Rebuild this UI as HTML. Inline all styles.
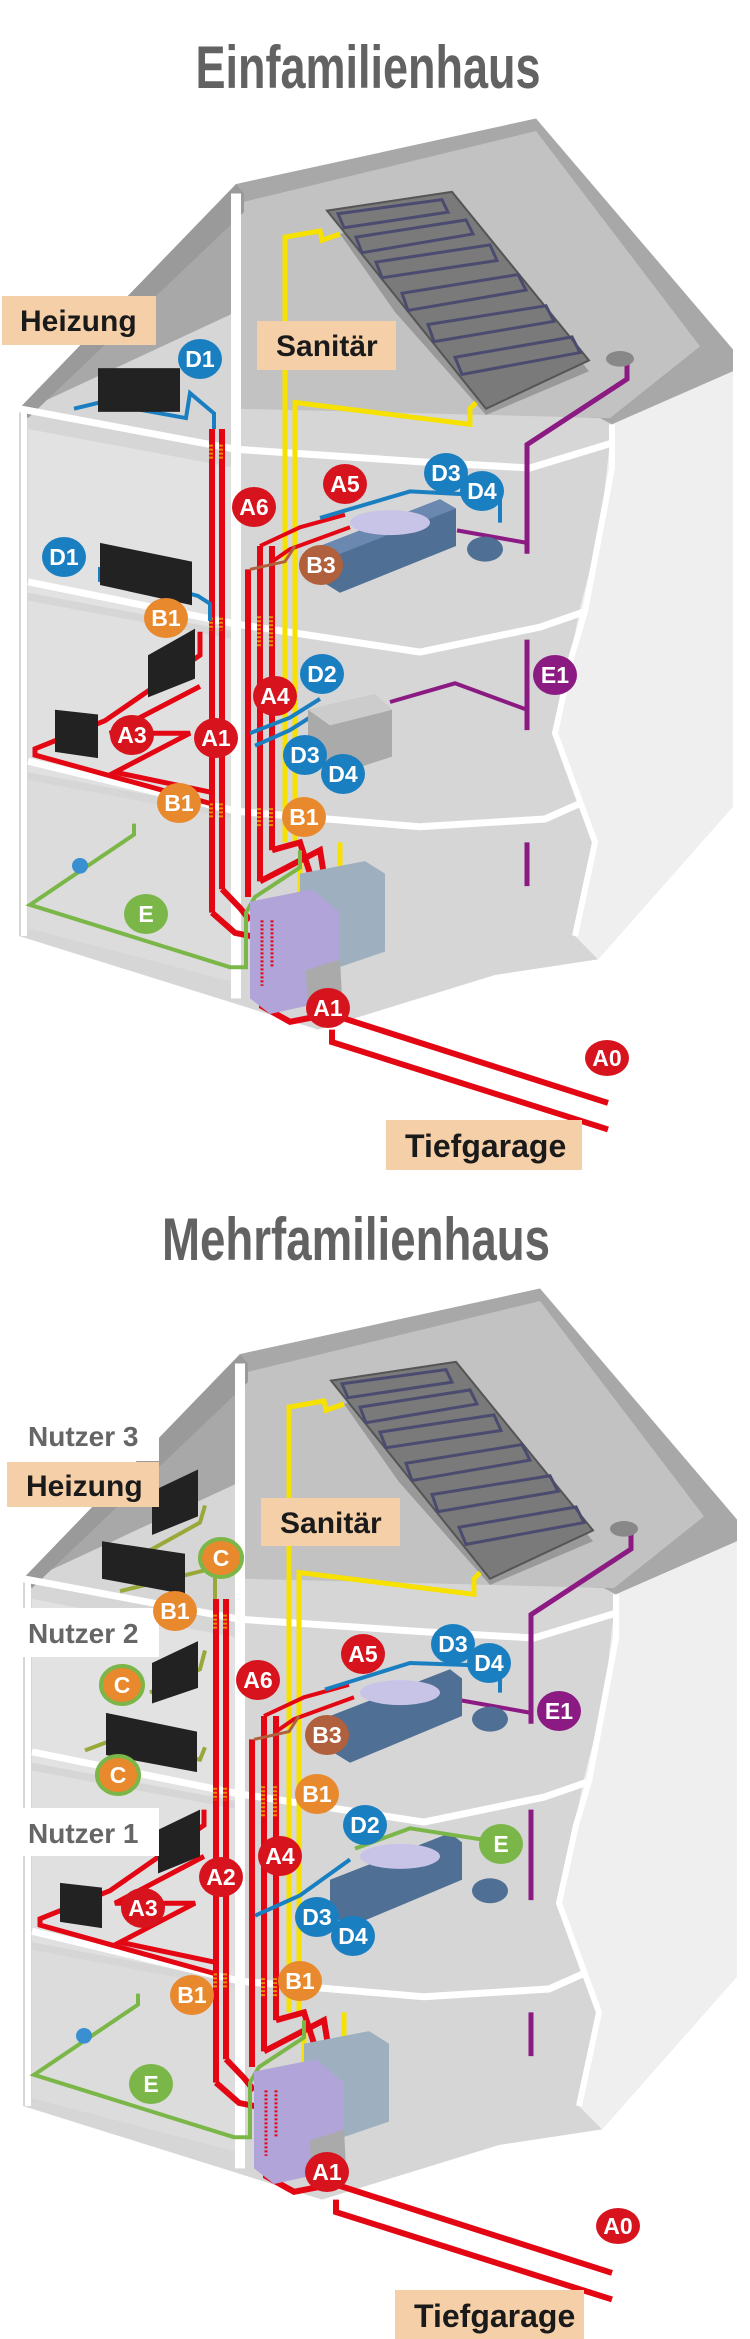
<!DOCTYPE html>
<html><head><meta charset="utf-8"><style>
html,body{margin:0;padding:0;background:#fff;}
svg{display:block;}
text{font-family:"Liberation Sans Narrow","Liberation Sans",sans-serif;font-weight:bold;}
.lb{fill:#fff;font-size:23px;text-anchor:middle;}
.ns *{vector-effect:non-scaling-stroke;}
</style></head><body>
<svg width="750" height="2339" viewBox="0 0 750 2339" xmlns="http://www.w3.org/2000/svg">
<defs>
<g id="house" class="ns">
  <polygon points="19,262 236,118 536,76 733,224 733,517 598,615 495,625 318,660 19,600" fill="#d6d6d6"/>
  <polygon points="28,380 236,405 236,300 28,275" fill="#e2e2e2"/>
  <polygon points="28,495 236,520 236,410 28,385" fill="#e0e0e0"/>
  <polygon points="28,595 236,630 236,525 28,500" fill="#dcdcdc"/>
  <polygon points="19,262 236,118 536,76 733,224 733,238 612,272 600,268 236,258 236,200 28,262" fill="#a8a8a8"/>
  <polygon points="240,130 536,84 700,222 610,268 240,262" fill="#c2c2c2"/>
  <polygon points="19,262 236,118 244,124 244,136 28,268" fill="#9a9a9a"/>
  <polygon points="612,272 733,238 733,517 598,615 575,600 595,540 555,470 580,390 600,340" fill="#efefef"/>
  <polyline points="19,262 236,288 420,296 530,300 612,284" fill="none" stroke="#fff" stroke-width="7"/>
  <polyline points="28,373 236,400 420,418 540,402 585,392" fill="none" stroke="#fff" stroke-width="7"/>
  <polyline points="28,488 236,520 420,530 545,525 580,515" fill="none" stroke="#fff" stroke-width="7"/>
  <polyline points="612,272 612,300 585,392 572,420 555,470 595,540 575,600" fill="none" stroke="#fff" stroke-width="6"/>
  <line x1="24" y1="262" x2="24" y2="600" stroke="#fff" stroke-width="6"/>
  <line x1="236" y1="124" x2="236" y2="640" stroke="#fff" stroke-width="10"/>
  <polygon points="340,150 452,130 589,238 486,266 395,200" fill="#999"/>
  <polygon points="327,135 452,123 589,231 486,262" fill="#7a7a7a" stroke="#555" stroke-width="2"/>
  <g fill="none" stroke="#4b4b70" stroke-width="3">
    <polygon points="338,137 442,128 448,136 344,146"/>
    <polygon points="356,152 466,141 473,150 362,162"/>
    <polygon points="376,168 490,157 497,167 382,178"/>
    <polygon points="402,188 518,176 526,186 408,199"/>
    <polygon points="428,208 546,196 554,206 434,219"/>
    <polygon points="455,229 572,216 580,226 462,240"/>
  </g>
  <polyline points="285,540 285,152 320,148 322,154 340,150" fill="none" stroke="#f6e100" stroke-width="5"/>
  <polyline points="295,540 295,258 470,272 470,262 476,258" fill="none" stroke="#f6e100" stroke-width="5"/>
  <line x1="300" y1="545" x2="300" y2="580" stroke="#f6e100" stroke-width="5"/>
  <line x1="340" y1="540" x2="340" y2="575" stroke="#f6e100" stroke-width="5"/>
  <polyline points="627,232 627,243 527,285 527,355" fill="none" stroke="#8b1a83" stroke-width="5"/>
  <line x1="527" y1="410" x2="527" y2="468" stroke="#8b1a83" stroke-width="5"/>
  <line x1="527" y1="540" x2="527" y2="568" stroke="#8b1a83" stroke-width="5"/>
  <line x1="457" y1="340" x2="527" y2="348" stroke="#8b1a83" stroke-width="4"/>
  <ellipse cx="620" cy="230" rx="14" ry="5" fill="#888"/>
  <g fill="none" stroke="#e30613" stroke-width="6">
    <line x1="212" y1="275" x2="212" y2="585"/>
    <line x1="222" y1="275" x2="222" y2="570"/>
    <polyline points="212,585 235,598 250,600 270,605"/>
    <polyline points="222,570 240,582 250,590"/>
    <line x1="248" y1="365" x2="248" y2="575"/>
    <line x1="260" y1="350" x2="260" y2="565"/>
    <line x1="272" y1="350" x2="272" y2="545"/>
    <polyline points="272,545 300,540 310,560"/>
    <polyline points="260,565 320,545 325,565"/>
    <polyline points="262,632 262,645 290,655 330,650"/>
    <polyline points="272,620 272,635 310,640"/>
    <polyline points="330,650 608,707"/>
    <polyline points="332,660 332,668 608,724"/>
  </g>
  <g fill="none" stroke="#e30613" stroke-width="4">
    <polyline points="260,350 300,338 345,330"/>
    <polyline points="272,360 290,352 350,338"/>
  </g>
  <g fill="none" stroke="#b0603c" stroke-width="3"><polyline points="250,365 285,360 295,350"/></g>
  <g stroke="#f08a00" stroke-width="4" stroke-dasharray="2,2">
    <line x1="211" y1="285" x2="211" y2="295"/><line x1="221" y1="285" x2="221" y2="295"/>
    <line x1="211" y1="396" x2="211" y2="404"/><line x1="221" y1="396" x2="221" y2="404"/>
    <line x1="211" y1="515" x2="211" y2="525"/><line x1="221" y1="515" x2="221" y2="525"/>
    <line x1="259" y1="395" x2="259" y2="415"/><line x1="271" y1="395" x2="271" y2="415"/>
    <line x1="259" y1="518" x2="259" y2="530"/><line x1="271" y1="518" x2="271" y2="530"/>
  </g>
  <polyline points="134,528 134,535 30,580 230,620 246,620 246,585 255,575 300,556 300,545" fill="none" stroke="#7ab648" stroke-width="4"/>
  <ellipse cx="80" cy="555" rx="8" ry="5" fill="#3a8fd0"/>
  <polygon points="300,560 365,552 385,560 385,610 330,622 300,610" fill="#9eb0bf"/>
  <polygon points="250,578 312,570 340,585 340,640 270,650 250,640" fill="#b0a4d8"/>
  <polygon points="306,622 340,615 342,640 308,648" fill="#aaa"/>
  <g stroke="#e30613" stroke-width="3" stroke-dasharray="2,2">
    <line x1="262" y1="590" x2="262" y2="632"/><line x1="272" y1="590" x2="272" y2="620"/>
  </g>
</g>
</defs>

<!-- ===== HOUSE 1 ===== -->
<text x="368" y="88" font-size="60" fill="#626262" text-anchor="middle" textLength="345" lengthAdjust="spacingAndGlyphs">Einfamilienhaus</text>
<g transform="scale(1,1.56)" class="ns">
<use href="#house"/>
<g fill="none" stroke="#1a7fc1" stroke-width="4">
  <polyline points="74,262 100,258 186,268 190,252 214,265 214,275"/>
  <polyline points="100,373 100,365 198,382 210,387 210,398"/>
  <polyline points="320,332 410,315 500,318 500,335"/>
  <polyline points="250,470 290,460 320,448"/>
  <polyline points="255,478 290,468 322,455"/>
</g>
<g fill="none" stroke="#e30613" stroke-width="5">
  <polyline points="200,405 200,420 105,462 35,480 35,484 210,515"/>
  <polyline points="200,440 110,470 190,470 115,495 212,508"/>
</g>
<rect x="98" y="236" width="82" height="28" fill="#222"/>
<polygon points="100,348 192,360 192,388 100,375" fill="#222"/>
<polygon points="148,420 195,403 195,435 148,447" fill="#222"/>
<polygon points="55,455 98,458 98,486 55,482" fill="#222"/>
<polygon points="320,350 440,320 456,326 456,350 340,380 320,372" fill="#4f6f95"/>
<polygon points="320,350 440,320 456,326 336,356" fill="#6b88b0"/>
<ellipse cx="390" cy="335" rx="40" ry="8" fill="#c8c4e8"/>
<ellipse cx="485" cy="352" rx="18" ry="8" fill="#4f6f95"/>
<polygon points="308,455 375,445 392,455 392,485 330,498 308,485" fill="#aaa"/>
<polygon points="308,455 375,445 392,455 330,465" fill="#ccc"/>
<polyline points="390,450 455,438 527,455" fill="none" stroke="#8b1a83" stroke-width="4"/>
</g>

<rect x="2" y="296" width="154" height="49" fill="#f5cfa8"/>
<text x="20" y="331" font-size="30" fill="#1a1a1a">Heizung</text>
<rect x="257" y="321" width="139" height="49" fill="#f5cfa8"/>
<text x="276" y="356" font-size="30" fill="#1a1a1a">Sanitär</text>
<rect x="386" y="1120" width="196" height="50" fill="#f5cfa8"/>
<text x="405" y="1157" font-size="32" fill="#1a1a1a">Tiefgarage</text>

<g>
<ellipse cx="200" cy="359" rx="22" ry="20" fill="#1a7fc1"/><text class="lb" x="200" y="367">D1</text>
<ellipse cx="64" cy="557" rx="22" ry="20" fill="#1a7fc1"/><text class="lb" x="64" y="565">D1</text>
<ellipse cx="345" cy="484" rx="22" ry="20" fill="#d7141e"/><text class="lb" x="345" y="492">A5</text>
<ellipse cx="254" cy="507" rx="22" ry="20" fill="#d7141e"/><text class="lb" x="254" y="515">A6</text>
<ellipse cx="446" cy="473" rx="22" ry="20" fill="#1a7fc1"/><text class="lb" x="446" y="481">D3</text>
<ellipse cx="482" cy="491" rx="22" ry="20" fill="#1a7fc1"/><text class="lb" x="482" y="499">D4</text>
<ellipse cx="321" cy="565" rx="22" ry="20" fill="#b0603c"/><text class="lb" x="321" y="573">B3</text>
<ellipse cx="166" cy="618" rx="22" ry="20" fill="#e8892e"/><text class="lb" x="166" y="626">B1</text>
<ellipse cx="322" cy="674" rx="22" ry="20" fill="#1a7fc1"/><text class="lb" x="322" y="682">D2</text>
<ellipse cx="275" cy="696" rx="22" ry="20" fill="#d7141e"/><text class="lb" x="275" y="704">A4</text>
<ellipse cx="555" cy="675" rx="22" ry="20" fill="#8b1a83"/><text class="lb" x="555" y="683">E1</text>
<ellipse cx="132" cy="735" rx="22" ry="20" fill="#d7141e"/><text class="lb" x="132" y="743">A3</text>
<ellipse cx="216" cy="738" rx="22" ry="20" fill="#d7141e"/><text class="lb" x="216" y="746">A1</text>
<ellipse cx="305" cy="755" rx="22" ry="20" fill="#1a7fc1"/><text class="lb" x="305" y="763">D3</text>
<ellipse cx="343" cy="774" rx="22" ry="20" fill="#1a7fc1"/><text class="lb" x="343" y="782">D4</text>
<ellipse cx="179" cy="803" rx="22" ry="20" fill="#e8892e"/><text class="lb" x="179" y="811">B1</text>
<ellipse cx="304" cy="817" rx="22" ry="20" fill="#e8892e"/><text class="lb" x="304" y="825">B1</text>
<ellipse cx="146" cy="914" rx="22" ry="20" fill="#7ab648"/><text class="lb" x="146" y="922">E</text>
<ellipse cx="328" cy="1008" rx="22" ry="20" fill="#d7141e"/><text class="lb" x="328" y="1016">A1</text>
<ellipse cx="607" cy="1058" rx="22" ry="18" fill="#d7141e"/><text class="lb" x="607" y="1066" font-size="20">A0</text>
</g>

<!-- ===== HOUSE 2 ===== -->
<text x="356" y="1260" font-size="60" fill="#626262" text-anchor="middle" textLength="388" lengthAdjust="spacingAndGlyphs">Mehrfamilienhaus</text>
<g transform="translate(0,1170) scale(1,1.56) translate(0,-1170)" class="ns">
<use href="#house" x="4" y="1170"/>
<g fill="none" stroke="#9aa83a" stroke-width="4">
  <polyline points="110,1428 200,1396 205,1385"/>
  <polyline points="120,1440 215,1425 215,1445"/>
  <polyline points="150,1505 200,1490 205,1478"/>
  <polyline points="85,1542 110,1536 200,1548 205,1540"/>
</g>
<g fill="none" stroke="#e30613" stroke-width="5">
  <polyline points="204,1580 204,1590 110,1632 40,1650 40,1654 214,1685"/>
  <polyline points="204,1610 115,1640 195,1640 120,1665 216,1678"/>
</g>
<polygon points="152,1376 198,1362 198,1392 152,1404" fill="#222"/>
<polygon points="102,1408 185,1416 185,1442 102,1432" fill="#222"/>
<polygon points="152,1486 198,1472 198,1502 152,1512" fill="#222"/>
<polygon points="106,1518 197,1530 197,1556 106,1545" fill="#222"/>
<polygon points="158,1593 200,1580 200,1610 158,1621" fill="#222"/>
<polygon points="60,1627 102,1630 102,1656 60,1652" fill="#222"/>
<polygon points="330,1520 450,1490 462,1496 462,1520 350,1550 330,1542" fill="#4f6f95"/>
<ellipse cx="400" cy="1505" rx="40" ry="8" fill="#c8c4e8"/>
<ellipse cx="490" cy="1522" rx="18" ry="8" fill="#4f6f95"/>
<polygon points="330,1625 450,1595 462,1601 462,1625 350,1655 330,1647" fill="#4f6f95"/>
<ellipse cx="400" cy="1610" rx="40" ry="8" fill="#c8c4e8"/>
<ellipse cx="490" cy="1632" rx="18" ry="8" fill="#4f6f95"/>
<polyline points="355,1605 410,1592 490,1600" fill="none" stroke="#7ab648" stroke-width="4"/>
<polyline points="325,1503 410,1486 500,1488 500,1505" fill="none" stroke="#1a7fc1" stroke-width="4"/>
<polyline points="255,1648 300,1635 350,1612" fill="none" stroke="#1a7fc1" stroke-width="4"/>
</g>

<rect x="7" y="1410" width="152" height="51" fill="#fff"/>
<text x="28" y="1446" font-size="28" fill="#666">Nutzer 3</text>
<rect x="7" y="1462" width="152" height="45" fill="#f5cfa8"/>
<text x="26" y="1496" font-size="30" fill="#1a1a1a">Heizung</text>
<rect x="7" y="1608" width="152" height="49" fill="#fff"/>
<text x="28" y="1643" font-size="28" fill="#666">Nutzer 2</text>
<rect x="7" y="1808" width="152" height="48" fill="#fff"/>
<text x="28" y="1843" font-size="28" fill="#666">Nutzer 1</text>
<rect x="261" y="1498" width="139" height="48" fill="#f5cfa8"/>
<text x="280" y="1533" font-size="30" fill="#1a1a1a">Sanitär</text>
<rect x="395" y="2290" width="189" height="49" fill="#f5cfa8"/>
<text x="414" y="2327" font-size="32" fill="#1a1a1a">Tiefgarage</text>

<g>
<ellipse cx="221" cy="1558" rx="21" ry="19" fill="#e8892e" stroke="#7ab648" stroke-width="4"/><text class="lb" x="221" y="1566">C</text>
<ellipse cx="175" cy="1611" rx="22" ry="20" fill="#e8892e"/><text class="lb" x="175" y="1619">B1</text>
<ellipse cx="122" cy="1685" rx="21" ry="19" fill="#e8892e" stroke="#7ab648" stroke-width="4"/><text class="lb" x="122" y="1693">C</text>
<ellipse cx="258" cy="1680" rx="22" ry="20" fill="#d7141e"/><text class="lb" x="258" y="1688">A6</text>
<ellipse cx="363" cy="1654" rx="22" ry="20" fill="#d7141e"/><text class="lb" x="363" y="1662">A5</text>
<ellipse cx="453" cy="1644" rx="22" ry="20" fill="#1a7fc1"/><text class="lb" x="453" y="1652">D3</text>
<ellipse cx="489" cy="1663" rx="22" ry="20" fill="#1a7fc1"/><text class="lb" x="489" y="1671">D4</text>
<ellipse cx="559" cy="1711" rx="22" ry="20" fill="#8b1a83"/><text class="lb" x="559" y="1719">E1</text>
<ellipse cx="327" cy="1735" rx="22" ry="20" fill="#b0603c"/><text class="lb" x="327" y="1743">B3</text>
<ellipse cx="118" cy="1775" rx="21" ry="19" fill="#e8892e" stroke="#7ab648" stroke-width="4"/><text class="lb" x="118" y="1783">C</text>
<ellipse cx="317" cy="1794" rx="22" ry="20" fill="#e8892e"/><text class="lb" x="317" y="1802">B1</text>
<ellipse cx="365" cy="1825" rx="22" ry="20" fill="#1a7fc1"/><text class="lb" x="365" y="1833">D2</text>
<ellipse cx="501" cy="1844" rx="22" ry="20" fill="#7ab648"/><text class="lb" x="501" y="1852">E</text>
<ellipse cx="280" cy="1856" rx="22" ry="20" fill="#d7141e"/><text class="lb" x="280" y="1864">A4</text>
<ellipse cx="221" cy="1877" rx="22" ry="20" fill="#d7141e"/><text class="lb" x="221" y="1885">A2</text>
<ellipse cx="143" cy="1908" rx="22" ry="20" fill="#d7141e"/><text class="lb" x="143" y="1916">A3</text>
<ellipse cx="317" cy="1917" rx="22" ry="20" fill="#1a7fc1"/><text class="lb" x="317" y="1925">D3</text>
<ellipse cx="353" cy="1936" rx="22" ry="20" fill="#1a7fc1"/><text class="lb" x="353" y="1944">D4</text>
<ellipse cx="192" cy="1995" rx="22" ry="20" fill="#e8892e"/><text class="lb" x="192" y="2003">B1</text>
<ellipse cx="300" cy="1981" rx="22" ry="20" fill="#e8892e"/><text class="lb" x="300" y="1989">B1</text>
<ellipse cx="151" cy="2084" rx="22" ry="20" fill="#7ab648"/><text class="lb" x="151" y="2092">E</text>
<ellipse cx="327" cy="2172" rx="22" ry="20" fill="#d7141e"/><text class="lb" x="327" y="2180">A1</text>
<ellipse cx="618" cy="2226" rx="22" ry="18" fill="#d7141e"/><text class="lb" x="618" y="2234" font-size="20">A0</text>
</g>
</svg>
</body></html>
